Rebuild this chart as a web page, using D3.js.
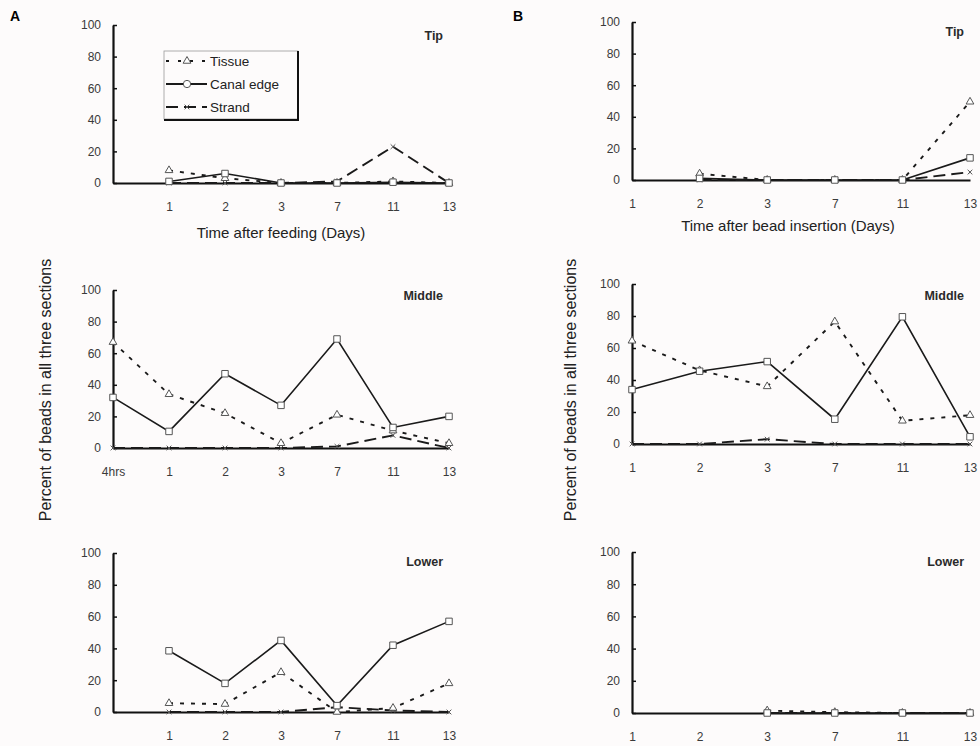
<!DOCTYPE html>
<html lang="en">
    <head>
        <meta charset="utf-8">
        <title>Percent of beads in all three sections</title>
        <script type="text/javascript" src="https://cdn.jsdelivr.net/npm/d3@7"></script>
        <style type="text/css">
            body { margin: 0; background: #fdfbfb; }
            svg { font-family: "Liberation Sans", Arial, sans-serif; }
            .axis text { fill: #3a3a3a; font-size: 12px; }
            .axis path, .axis line { stroke: #111; }
        </style>
    </head>

    <body>
        <script type="text/javascript">
            // Categories on the x axis
            var catsA = ["4hrs", "1", "2", "3", "7", "11", "13"];
            var catsB = ["1", "2", "3", "7", "11", "13"];
            var yTicks = [0, 20, 40, 60, 80, 100];

            // Panel A (time after feeding)
            var aTipTissue = [null, 8, 3, 0, 0, 1, 0];
            var aTipCanal  = [null, 1, 6, 0, 0, 0.5, 0];
            var aTipStrand = [null, 0, 0, 0, 1, 23, 0];
            var aMidTissue = [67, 34, 22, 3, 21, 11, 3];
            var aMidCanal  = [32, 10.5, 47, 27, 69, 13, 20];
            var aMidStrand = [0, 0, 0, 0, 1, 8, 0];
            var aLowTissue = [null, 5.5, 5, 25, 0, 2.5, 18];
            var aLowCanal  = [null, 38.5, 18, 45, 4, 42, 57];
            var aLowStrand = [null, 0, 0, 0, 3, 1, 0];

            // Panel B (time after bead insertion)
            var bTipTissue = [null, 4, 0, 0, 0, 49.5];
            var bTipCanal  = [null, 1, 0, 0, 0, 14];
            var bTipStrand = [null, 0, 0, 0, 0, 5];
            var bMidTissue = [64.5, 46, 36, 76.5, 14.5, 18];
            var bMidCanal  = [34, 45.5, 51.5, 15.5, 79.5, 4.5];
            var bMidStrand = [0, 0, 3, 0, 0, 0];
            var bLowTissue = [null, null, 1.5, 0.5, 0, 0];
            var bLowCanal  = [null, null, 0, 0, 0, 0];
            var bLowStrand = [null, null, 0, 0, 0, 0];

            var w = 980;
            var h = 746;
            var svg = d3.select("body")
                    .append("svg")
                    .attr("width", w)
                    .attr("height", h);

            // x-shaped marker for the strand series
            var symbolCross = {
                draw: function(ctx, size) {
                    var r = Math.sqrt(size) / 2;
                    ctx.moveTo(-r, -r); ctx.lineTo(r, r);
                    ctx.moveTo(r, -r); ctx.lineTo(-r, r);
                }
            };

            var series = {
                tissue: { dash: "4,7", symbol: d3.symbolTriangle, size: 26 },
                canal:  { dash: null,  symbol: d3.symbolSquare,   size: 42 },
                strand: { dash: "12,6", symbol: symbolCross,      size: 22 }
            };

            var panels = [
                { cats: catsA, x0: 113, x1: 449, y0: 183, y1: 25,  title: "Tip",    ty: 40, hideFirst: true,
                  data: { tissue: aTipTissue, canal: aTipCanal, strand: aTipStrand } },
                { cats: catsA, x0: 113, x1: 449, y0: 448, y1: 290, title: "Middle", ty: 300, hideFirst: false,
                  data: { tissue: aMidTissue, canal: aMidCanal, strand: aMidStrand } },
                { cats: catsA, x0: 113, x1: 449, y0: 712, y1: 553, title: "Lower",  ty: 566, hideFirst: true,
                  data: { tissue: aLowTissue, canal: aLowCanal, strand: aLowStrand } },
                { cats: catsB, x0: 632, x1: 970, y0: 180, y1: 22,  title: "Tip",    ty: 36, hideFirst: false,
                  data: { tissue: bTipTissue, canal: bTipCanal, strand: bTipStrand } },
                { cats: catsB, x0: 632, x1: 970, y0: 444, y1: 284, title: "Middle", ty: 300, hideFirst: false,
                  data: { tissue: bMidTissue, canal: bMidCanal, strand: bMidStrand } },
                { cats: catsB, x0: 632, x1: 970, y0: 713, y1: 552, title: "Lower",  ty: 566, hideFirst: false,
                  data: { tissue: bLowTissue, canal: bLowCanal, strand: bLowStrand } }
            ];

            panels.forEach(function(p) {
                var g = svg.append("g");
                var xScale = d3.scalePoint()
                                .domain(p.cats)
                                .range([p.x0, p.x1]);
                var yScale = d3.scaleLinear()
                                .domain([0, 100])
                                .range([p.y0, p.y1]);

                var xAxis = d3.axisBottom(xScale)
                                .tickSize(0)
                                .tickPadding(19)
                                .tickFormat(function(d, i) { return (p.hideFirst && i === 0) ? "" : d; });
                var yAxis = d3.axisLeft(yScale)
                                .tickValues(yTicks)
                                .tickSizeInner(-4)
                                .tickSizeOuter(0)
                                .tickPadding(12);

                var gx = g.append("g")
                    .attr("class", "axis")
                    .attr("transform", "translate(0," + p.y0 + ")")
                    .call(xAxis);
                gx.select(".domain").attr("stroke-width", 2.2);

                var gy = g.append("g")
                    .attr("class", "axis")
                    .attr("transform", "translate(" + p.x0 + ",0)")
                    .call(yAxis);
                gy.select(".domain").attr("stroke-width", 2.2);
                gy.selectAll(".tick line").attr("stroke-width", 1.5);

                // Lines and markers, strand and tissue under canal edge
                ["strand", "tissue", "canal"].forEach(function(key) {
                    var s = series[key];
                    var vals = p.data[key];
                    var pts = vals.map(function(v, i) { return { c: p.cats[i], v: v }; });
                    var line = d3.line()
                                .defined(function(d) { return d.v !== null; })
                                .x(function(d) { return xScale(d.c); })
                                .y(function(d) { return yScale(d.v); });
                    g.append("path")
                        .datum(pts)
                        .attr("d", line)
                        .attr("fill", "none")
                        .attr("stroke", "#1a1a1a")
                        .attr("stroke-width", key === "canal" ? 1.6 : 1.9)
                        .attr("stroke-dasharray", s.dash);
                    g.selectAll(".m-" + key)
                        .data(pts.filter(function(d) { return d.v !== null; }))
                        .enter()
                        .append("path")
                        .attr("class", "m-" + key)
                        .attr("transform", function(d) {
                            return "translate(" + xScale(d.c) + "," + yScale(d.v) + ")";
                        })
                        .attr("d", d3.symbol().type(s.symbol).size(s.size))
                        .attr("fill", key === "strand" ? "none" : "#fff")
                        .attr("stroke", "#555")
                        .attr("stroke-width", 1);
                });

                g.append("text")
                    .attr("x", p.x1 - 6)
                    .attr("y", p.ty)
                    .attr("text-anchor", "end")
                    .attr("font-size", "12.5px")
                    .attr("font-weight", "bold")
                    .attr("fill", "#2a2a2a")
                    .text(p.title);
            });

            // Panel letters
            svg.append("text").attr("x", 10).attr("y", 21).attr("font-size", "14px")
                .attr("font-weight", "bold").text("A");
            svg.append("text").attr("x", 513).attr("y", 21).attr("font-size", "14px")
                .attr("font-weight", "bold").text("B");

            // Axis titles
            svg.append("text").attr("x", 281).attr("y", 238).attr("text-anchor", "middle")
                .attr("font-size", "15px").attr("fill", "#222").text("Time after feeding (Days)");
            svg.append("text").attr("x", 788).attr("y", 231).attr("text-anchor", "middle")
                .attr("font-size", "15px").attr("fill", "#222").text("Time after bead insertion (Days)");
            [45, 570].forEach(function(x) {
                svg.append("text")
                    .attr("transform", "translate(" + (x + 6) + ",390) rotate(-90)")
                    .attr("text-anchor", "middle")
                    .attr("font-size", "16px")
                    .attr("fill", "#222")
                    .text("Percent of beads in all three sections");
            });

            // Legend box with a drop-shadow style border
            var lg = svg.append("g");
            lg.append("rect").attr("x", 164).attr("y", 51).attr("width", 134).attr("height", 68)
                .attr("fill", "#fdfbfb").attr("stroke", "#999").attr("stroke-width", 0.8);
            lg.append("path").attr("d", "M298,51V120H164")
                .attr("fill", "none").attr("stroke", "#111").attr("stroke-width", 2);
            var legendRows = [
                { key: "tissue", label: "Tissue", y: 61 },
                { key: "canal", label: "Canal edge", y: 84 },
                { key: "strand", label: "Strand", y: 107 }
            ];
            legendRows.forEach(function(r) {
                var s = series[r.key];
                lg.append("line").attr("x1", 166).attr("x2", 207).attr("y1", r.y).attr("y2", r.y)
                    .attr("stroke", "#1a1a1a").attr("stroke-width", 1.8)
                    .attr("stroke-dasharray", r.key === "tissue" ? "3,9" : (r.key === "strand" ? "12,6" : null));
                lg.append("path")
                    .attr("transform", "translate(187," + r.y + ")")
                    .attr("d", d3.symbol().type(r.key === "canal" ? d3.symbolCircle : s.symbol).size(s.size))
                    .attr("fill", r.key === "strand" ? "none" : "#fff")
                    .attr("stroke", "#555").attr("stroke-width", 1);
                lg.append("text").attr("x", 210).attr("y", r.y + 5)
                    .attr("font-size", "13.5px").attr("fill", "#222").text(r.label);
            });
        </script>
    </body>
</html>
